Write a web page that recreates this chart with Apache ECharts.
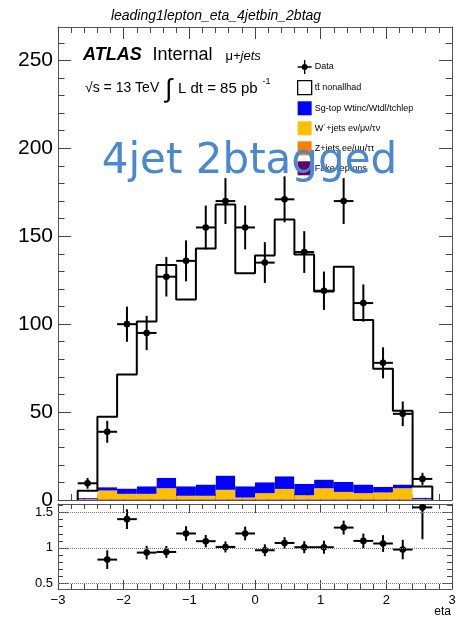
<!DOCTYPE html>
<html><head><meta charset="utf-8">
<script src="https://cdn.jsdelivr.net/npm/echarts@6/dist/echarts.min.js"></script>
<style>html,body{margin:0;padding:0;background:#fff}#c{width:459px;height:621px}</style>
</head><body><div id="c"></div>
<script>
// ---- data ----
const binEdges = [-2.7,-2.4,-2.1,-1.8,-1.5,-1.2,-0.9,-0.6,-0.3,0,0.3,0.6,0.9,1.2,1.5,1.8,2.1,2.4,2.7];
const dataCounts = [9.5,38.8,100,95,127,136,155,170,155,135,171,141,119,170,112,78,49,12];
const ttbar     = [4.1,40.0,64.9,93.7,121.1,106.2,134.2,154.1,121.2,128.9,146.0,130.4,107.0,122.3,93.5,67.1,42.0,6.4];
const singleTop = [0.5,1.9,3.0,4.3,5.9,5.4,6.4,8.1,6.4,6.2,7.2,6.5,4.9,5.7,4.9,3.2,2.1,0.7];
const wjets     = [0.3,4.9,3.0,3.0,6.2,1.9,1.9,5.3,0.9,3.4,5.8,2.2,6.2,4.1,3.4,3.8,6.2,0.2];
const zjets     = [0.1,0.2,0.2,0.2,0.2,0.2,0.2,0.2,0.2,0.2,0.2,0.2,0.2,0.2,0.2,0.2,0.2,0.1];
const fakes     = [0.3,0.3,0.3,0.3,0.3,0.3,0.3,0.3,0.3,0.3,0.3,0.3,0.3,0.3,0.3,0.3,0.3,0.3];
const ratio     = [null,0.835,1.406,0.934,0.943,1.204,1.095,1.014,1.204,0.967,1.07,1.01,1.01,1.287,1.099,1.062,0.977,1.572];
const xTicks = [-3,-2,-1,0,1,2,3];
const yTicksMain = [0,50,100,150,200,250];
const yMinorMain = [10,20,30,40,60,70,80,90,110,120,130,140,160,170,180,190,210,220,230,240,260];
const yTicksRatio = [0.5,1,1.5];
const yMinorRatio = [0.5,0.6,0.7,0.8,0.9,1.0,1.1,1.2,1.3,1.4,1.5,1.6];
const refLines = [0.5,1,1.5];
const names = ['Data','tt\u0304 nonallhad','Sg-top Wtinc/Wtdl/tchlep','W\u02D9+jets e\u03BD/\u03BC\u03BD/\u03C4\u03BD','Z+jets ee/\u03BC\u03BC/\u03C4\u03C4','Fake-leptons'];
const colors = ['#000000','#ffffff','#0000ff','#ffbf00','#ff7f00','#660066'];

// ---- build stacked rectangles ----
const comps = [fakes, zjets, wjets, singleTop, ttbar];
const compNames = [names[5], names[4], names[3], names[2], names[1]];
const compColors = [colors[5], colors[4], colors[3], colors[2], colors[1]];
const base = new Array(dataCounts.length).fill(0);
const stackData = comps.map(c => c.map((v, i) => {
  const item = [binEdges[i], binEdges[i+1], base[i], base[i] + v];
  base[i] += v;
  return item;
}));
const total = base.slice();
const outline = [[binEdges[0], 0]];
total.forEach((v, i) => { outline.push([binEdges[i], v]); outline.push([binEdges[i+1], v]); });
outline.push([binEdges[binEdges.length-1], 0]);

const mainPts = dataCounts.map((v, i) => [binEdges[i], binEdges[i+1], v, Math.sqrt(v)]);
const ratioPts = [];
ratio.forEach((r, i) => { if (r !== null) ratioPts.push([binEdges[i], binEdges[i+1], r, Math.sqrt(dataCounts[i]) / total[i]]); });

function rectItem(params, api) {
  const p0 = api.coord([api.value(0), api.value(3)]);
  const p1 = api.coord([api.value(1), api.value(2)]);
  return {type: 'rect', shape: {x: p0[0], y: p0[1], width: p1[0]-p0[0], height: p1[1]-p0[1]}, style: {fill: api.visual('color')}};
}
function errItem(params, api) {
  const lo = api.value(0), hi = api.value(1), v = api.value(2), e = api.value(3), m = (lo+hi)/2;
  const l = api.coord([lo, v]), r = api.coord([hi, v]), c = api.coord([m, v]);
  const t = api.coord([m, v+e]), b = api.coord([m, v-e]);
  return {type: 'group', children: [
    {type: 'line', shape: {x1: l[0], y1: l[1], x2: r[0], y2: r[1]}, style: {stroke: '#000', lineWidth: 2}},
    {type: 'line', shape: {x1: t[0], y1: t[1], x2: b[0], y2: b[1]}, style: {stroke: '#000', lineWidth: 2}},
    {type: 'circle', shape: {cx: c[0], cy: c[1], r: 3.3}, style: {fill: '#000'}}
  ]};
}

const FONT = '"Liberation Sans", Arial, sans-serif';
const tickC = '#444';
const lineC = '#555';
function xAx(grid, pos, labels, maj, mnr) {
  return {type: 'value', gridIndex: grid, position: pos, min: -3, max: 3, interval: 1,
    axisLine: {show: true, onZero: false, lineStyle: {color: lineC, width: 1}},
    axisTick: {show: true, inside: true, length: maj, lineStyle: {color: tickC}},
    minorTick: {show: true, splitNumber: 5, length: mnr, lineStyle: {color: tickC}},
    axisLabel: labels ? {show: true, fontFamily: FONT, fontSize: 13, color: '#000', margin: 5,
      formatter: v => String(v).replace('-', '\u2212')} : {show: false},
    splitLine: {show: false}};
}
function yAx(grid, pos, min, max, ticks, len, labels, lblSize, showLine) {
  return {type: 'value', gridIndex: grid, position: pos, min: min, max: max,
    axisLine: {show: showLine, onZero: false, lineStyle: {color: lineC, width: 1}},
    axisTick: {show: true, inside: true, length: len, customValues: ticks, lineStyle: {color: tickC}},
    axisLabel: labels ? {show: true, customValues: labels, fontFamily: FONT, fontSize: lblSize, color: '#000', margin: 5} : {show: false},
    splitLine: {show: false}};
}

const series = [];
stackData.forEach((d, k) => series.push({
  type: 'custom', name: compNames[k], xAxisIndex: 0, yAxisIndex: 0, renderItem: rectItem,
  encode: {x: [0, 1], y: [2, 3]}, itemStyle: {color: compColors[k]}, data: d, clip: true, z: 2
}));
series.push({type: 'line', name: 'outline', xAxisIndex: 0, yAxisIndex: 0, data: outline,
  symbol: 'none', lineStyle: {color: '#000', width: 2}, z: 3});
series.push({type: 'custom', name: names[0], xAxisIndex: 0, yAxisIndex: 0, renderItem: errItem,
  encode: {x: [0, 1], y: 2}, itemStyle: {color: '#000'}, data: mainPts, clip: true, z: 4});
series.push({type: 'line', name: 'ref', xAxisIndex: 3, yAxisIndex: 4, data: [], symbol: 'none',
  markLine: {silent: true, symbol: ['none', 'none'], label: {show: false},
    lineStyle: {type: 'dotted', color: '#777', width: 1}, data: refLines.map(v => ({yAxis: v}))}});
series.push({type: 'custom', name: 'ratio', xAxisIndex: 3, yAxisIndex: 4, renderItem: errItem,
  encode: {x: [0, 1], y: 2}, itemStyle: {color: '#000'}, data: ratioPts, clip: true, z: 4});

const dataIcon = 'path://M0,6.3H14V7.7H0Z M6.3,0H7.7V14H6.3Z M4,7A3,3,0,1,1,10,7A3,3,0,1,1,4,7Z';

const option = {
  animation: false,
  backgroundColor: '#fff',
  grid: [
    {left: 58, right: 7, top: 27, bottom: 121},
    {left: 58, right: 7, top: 27, bottom: 121},
    {left: 58, right: 7, top: 504, bottom: 32},
    {left: 58, right: 7, top: 504, bottom: 32}
  ],
  xAxis: [
    xAx(0, 'bottom', false, 12, 6),
    xAx(0, 'top', false, 12, 6),
    {type: 'value', gridIndex: 1, min: -3, max: 3, show: false},
    xAx(2, 'bottom', true, 9, 5),
    xAx(2, 'top', false, 9, 5),
    {type: 'value', gridIndex: 3, min: -3, max: 3, show: false}
  ],
  yAxis: [
    yAx(0, 'left', 0, 269, yTicksMain, 13, yTicksMain, 21, true),
    yAx(0, 'right', 0, 269, yTicksMain, 13, null, 0, true),
    yAx(1, 'left', 0, 269, yMinorMain, 6.5, null, 0, false),
    yAx(1, 'right', 0, 269, yMinorMain, 6.5, null, 0, false),
    yAx(2, 'left', 0.42, 1.62, yTicksRatio, 10, yTicksRatio, 13, true),
    yAx(2, 'right', 0.42, 1.62, yTicksRatio, 10, null, 0, true),
    yAx(3, 'left', 0.42, 1.62, yMinorRatio, 5, null, 0, false),
    yAx(3, 'right', 0.42, 1.62, yMinorRatio, 5, null, 0, false)
  ],
  legend: {
    orient: 'vertical', left: 297, top: 60, padding: 0, itemWidth: 14, itemHeight: 14, itemGap: 6,
    selectedMode: false, textStyle: {fontFamily: FONT, fontSize: 9, color: '#000', padding: [0, 0, 0, -2]},
    data: [
      {name: names[0], icon: dataIcon, itemStyle: {color: '#000'}},
      {name: names[1], icon: 'rect', itemStyle: {color: '#fff', borderColor: '#000', borderWidth: 1.3}},
      {name: names[2], icon: 'rect', itemStyle: {color: colors[2]}},
      {name: names[3], icon: 'rect', itemStyle: {color: colors[3]}},
      {name: names[4], icon: 'rect', itemStyle: {color: colors[4]}},
      {name: names[5], icon: 'rect', itemStyle: {color: colors[5]}}
    ]
  },
  graphic: [
    {type: 'text', x: 216, y: 16, style: {text: 'leading1lepton_eta_4jetbin_2btag', font: 'italic 14px ' + FONT, fill: '#000', align: 'center', verticalAlign: 'middle'}},
    {type: 'text', x: 83, y: 55.5, style: {text: 'ATLAS', font: 'italic bold 18px ' + FONT, fill: '#000', verticalAlign: 'middle'}},
    {type: 'text', x: 152.5, y: 55.5, style: {text: 'Internal', font: '18px ' + FONT, fill: '#000', verticalAlign: 'middle'}},
    {type: 'text', x: 225.5, y: 56.5, style: {text: '{a|\u03BC}{b|+jets}', verticalAlign: 'middle',
      rich: {a: {fontFamily: FONT, fontSize: 13, fill: '#000'}, b: {fontFamily: FONT, fontSize: 13, fontStyle: 'italic', fill: '#000'}}}},
    {type: 'text', x: 85, y: 88.6, style: {text: '\u221As = 13 TeV', font: '14px ' + FONT, fill: '#000', verticalAlign: 'middle'}},
    {type: 'text', x: 165, y: 90, style: {text: '\u222B', font: '26px ' + FONT, fill: '#000', verticalAlign: 'middle'}},
    {type: 'text', x: 178, y: 88.6, style: {text: 'L dt = 85 pb', font: '15px ' + FONT, fill: '#000', verticalAlign: 'middle'}},
    {type: 'text', x: 262.5, y: 81.5, style: {text: '-1', font: '9px ' + FONT, fill: '#000', verticalAlign: 'middle'}},
    {type: 'text', x: 101.7, y: 162, z: 100, style: {text: '4jet 2btagged', font: '42px "DejaVu Sans"', fill: '#4a88d0', verticalAlign: 'middle'}},
    {type: 'text', x: 451, y: 612, style: {text: 'eta', font: '12px ' + FONT, fill: '#000', align: 'right', verticalAlign: 'middle'}}
  ],
  series: series
};
const chart = echarts.init(document.getElementById('c'), null, {renderer: 'canvas'});
chart.setOption(option);
</script>
</body></html>
